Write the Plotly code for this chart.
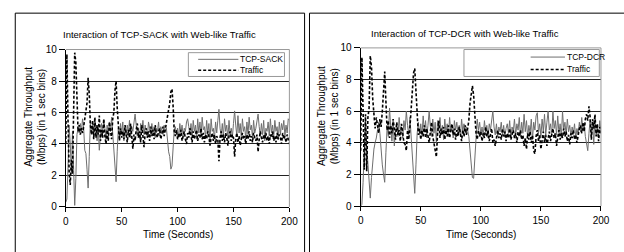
import plotly.graph_objects as go

time_s = list(range(201))

sack_tcp = [0.3,0.5,2.5,5.2,4.0,2.2,4.8,1.5,0.1,1.8,4.6,5.0,4.7,5.3,4.8,5.6,5.0,3.6,3.4,2.4,
1.2,3.2,5.4,4.6,5.2,4.4,5.5,4.9,4.2,5.1,3.6,4.5,5.3,4.8,5.5,5.0,4.3,5.2,4.6,5.4,
4.8,5.7,4.5,3.4,2.0,1.6,3.5,5.0,4.4,5.3,4.6,5.4,4.2,5.0,4.5,5.2,4.7,5.5,4.4,5.1,
4.8,5.6,5.9,5.2,4.5,5.0,4.3,5.3,4.8,5.5,4.6,5.2,4.9,4.4,5.4,5.0,4.6,5.3,4.7,5.1,
4.4,5.0,4.8,5.4,4.5,5.1,4.9,4.6,5.2,4.8,5.0,4.2,3.5,3.2,2.4,2.6,3.8,4.9,5.1,4.6,
5.0,4.4,5.3,4.7,5.2,4.5,5.0,4.8,5.4,5.6,5.1,4.6,5.3,4.4,5.5,4.8,5.2,4.3,5.6,4.7,
5.4,4.5,5.7,4.9,5.1,4.4,5.5,4.6,5.3,4.2,5.6,4.8,5.0,4.3,5.4,4.7,5.5,6.2,5.0,4.5,
5.3,4.4,5.6,4.8,5.2,4.3,5.5,4.6,5.0,4.4,5.3,6.1,5.2,4.5,5.8,4.7,5.3,4.4,5.6,4.8,
5.1,4.3,5.4,4.6,5.7,4.9,5.2,4.4,5.5,4.7,5.0,5.4,5.9,5.1,4.5,5.3,4.6,5.5,4.2,5.0,
4.8,5.4,4.5,5.6,4.7,5.2,4.4,5.5,4.8,5.1,4.3,5.4,4.6,5.3,4.9,5.5,4.5,5.2,4.7,5.6,5.5]

sack_traffic = [4.0,9.7,5.5,2.2,1.4,3.0,2.1,5.0,9.8,9.2,7.0,4.8,5.2,4.6,5.0,4.7,5.1,5.8,6.1,6.6,
8.2,7.2,5.2,4.6,5.5,4.3,5.7,4.4,5.2,4.6,5.8,4.2,4.9,4.4,5.6,4.5,4.0,4.9,4.2,5.4,
4.7,4.3,5.6,6.0,7.4,8.0,6.3,4.8,4.2,5.0,4.4,4.8,4.3,5.2,4.6,4.1,4.9,4.4,5.3,4.5,
3.7,4.6,4.2,4.9,5.3,4.4,4.8,4.1,5.2,4.5,3.8,4.7,5.0,4.4,4.8,4.2,5.1,4.5,4.9,4.3,
5.2,4.6,4.4,4.8,5.0,4.3,4.7,5.1,4.5,4.9,5.2,5.6,6.1,6.6,7.3,7.5,6.4,4.8,4.5,4.9,
4.3,4.7,4.4,4.9,4.2,4.6,4.8,4.3,4.0,4.7,4.4,5.0,4.5,4.1,4.8,4.3,4.6,4.9,4.2,4.6,
4.4,5.0,4.3,4.7,4.1,4.6,4.3,4.8,4.5,3.9,4.4,4.7,4.2,4.6,4.0,4.5,4.3,2.9,4.4,4.8,
4.2,4.6,4.1,4.7,4.4,3.9,4.5,4.8,4.2,4.6,4.4,3.2,4.3,4.7,4.1,4.5,3.9,4.4,4.7,4.3,
4.5,4.0,4.6,4.3,4.8,4.2,4.5,4.1,4.7,4.4,4.2,4.6,3.5,4.3,4.8,4.4,4.1,4.6,4.3,4.7,
4.2,4.5,4.0,4.6,4.4,4.8,4.2,4.5,4.1,4.7,4.3,4.6,4.4,4.0,4.7,4.3,4.5,4.1,4.6,4.3,4.0]

dcr_tcp = [0.0,0.1,1.5,4.2,5.5,3.8,2.5,1.0,0.5,1.8,2.8,3.6,4.0,4.3,4.8,5.3,4.6,3.5,2.6,2.0,
1.5,3.4,5.0,4.4,6.2,5.0,4.1,5.4,3.8,4.8,5.2,4.4,5.6,4.7,5.0,4.3,5.4,4.8,6.0,5.1,
4.5,5.6,4.2,2.8,1.5,0.8,2.6,4.6,5.3,4.5,5.2,4.4,5.7,4.7,5.4,4.3,5.1,6.0,5.0,4.4,
5.5,4.6,5.3,4.0,5.4,4.8,5.6,4.5,5.1,4.2,5.5,4.6,5.2,4.4,5.6,4.7,5.0,4.3,5.4,4.8,
5.3,4.5,5.1,4.4,5.5,4.7,5.2,4.6,5.0,4.8,4.4,3.6,2.8,1.8,1.75,3.2,4.6,5.5,4.8,5.3,
4.5,5.0,4.4,5.4,4.7,5.1,4.3,5.2,4.8,5.6,6.0,5.0,4.5,5.2,4.4,5.0,4.7,5.3,4.5,5.1,
4.4,4.9,5.2,4.6,5.4,4.3,5.0,4.7,5.5,4.5,5.2,4.8,5.6,4.4,5.3,4.6,5.8,4.7,5.4,4.3,
5.1,4.6,5.5,4.2,5.3,4.8,5.7,5.9,4.6,5.2,4.4,5.5,4.7,5.8,4.5,5.3,6.0,4.8,5.2,4.4,
6.0,4.9,5.4,4.5,5.7,4.6,5.2,4.3,6.0,4.8,5.3,4.5,5.5,4.7,5.1,4.4,5.0,4.6,5.2,4.3,
4.9,4.5,5.3,4.7,5.6,4.8,5.2,4.4,4.0,3.5,4.6,5.5,4.3,5.2,3.9,5.6,4.5,5.0,4.3,5.4,4.7]

dcr_traffic = [3.5,9.4,6.0,2.3,5.8,2.2,5.6,6.2,9.5,8.8,6.8,5.5,4.9,5.6,5.2,4.6,5.5,5.0,6.0,7.4,
8.5,6.6,4.8,5.4,4.3,5.1,4.6,5.5,4.9,4.2,5.3,4.5,4.8,4.1,5.2,4.6,4.0,3.9,3.5,4.8,
4.2,5.0,6.0,7.6,8.4,8.7,7.2,5.4,4.5,4.9,4.2,4.8,4.4,5.1,4.3,4.9,4.5,4.0,4.7,5.3,
4.4,3.9,3.6,3.1,4.6,5.4,4.3,4.9,4.5,5.0,4.2,4.8,4.4,5.1,4.3,4.7,5.2,4.5,4.9,4.2,
4.8,4.4,5.0,4.6,4.1,4.8,4.4,5.1,4.5,4.9,5.4,6.5,7.2,7.6,7.0,5.6,4.6,4.2,4.8,4.4,
4.7,4.1,4.6,4.3,5.0,4.4,4.8,4.1,4.5,4.9,4.0,4.2,3.8,4.5,4.8,4.3,4.6,4.2,4.9,4.4,
4.7,4.1,4.6,4.3,4.9,4.2,4.5,4.8,4.3,4.6,4.0,4.7,4.4,4.8,4.2,4.5,3.8,4.3,3.6,4.6,
4.2,4.7,4.0,4.5,3.5,3.3,4.4,4.8,4.1,4.5,3.6,4.3,4.7,4.0,4.5,3.8,4.4,4.7,4.1,4.5,
4.9,4.3,4.6,3.8,4.4,4.8,4.2,4.6,4.3,4.9,4.4,4.7,4.1,4.5,3.9,4.6,4.3,4.8,4.2,4.5,
4.0,4.6,4.9,5.1,4.6,5.3,4.7,5.5,5.8,5.4,6.3,5.6,4.2,5.5,4.9,5.8,4.4,5.2,4.1,5.0,4.6]

titles = ["Interaction of TCP-SACK with Web-like Traffic",
          "Interaction of TCP-DCR with Web-like Traffic"]
tcp_names = ["TCP-SACK", "TCP-DCR"]
traffic_name = "Traffic"
x_ticks = [0, 50, 100, 150, 200]
y_ticks = [0, 2, 4, 6, 8, 10]
y_title = "Aggregate Throughput<br>(Mbps) (in 1 sec bins)"
x_title = "Time (Seconds)"

W, H = 624, 252
FONT = "Liberation Sans, Arial, sans-serif"
TCP_COLOR = "#6e6e6e"
TRF_LINE = dict(color="black", width=1.6, dash="3px,2px")

def px(x):
    return x / W

def py(y):
    return 1 - y / H

fig = go.Figure()

panels = [
    dict(tcp=sack_tcp, trf=sack_traffic, xd=[px(64), px(292)], yd=[py(211), py(45.7)],
         legbox=[189, 49, 287, 74], legline=[199, 240], title_x=px(160), title_y=py(30),
         ytitle_x=px(33), xtitle_x=px(178), border=[12.5, 307.5]),
    dict(tcp=dcr_tcp, trf=dcr_traffic, xd=[px(364.7), px(609.7)], yd=[py(210), py(44)],
         legbox=[470, 45.7, 608, 74], legline=[538, 573], title_x=px(471), title_y=py(29),
         ytitle_x=px(332), xtitle_x=px(487), border=[312.5, 700]),
]

shapes = []
annotations = []
for i, p in enumerate(panels):
    sfx = "" if i == 0 else str(i + 1)
    xa, ya = "x" + sfx, "y" + sfx
    fig.add_trace(go.Scatter(x=time_s, y=p["tcp"], mode="lines", name=tcp_names[i],
                             line=dict(color=TCP_COLOR, width=1), xaxis=xa, yaxis=ya,
                             showlegend=False))
    fig.add_trace(go.Scatter(x=time_s, y=p["trf"], mode="lines", name=traffic_name,
                             line=TRF_LINE, xaxis=xa, yaxis=ya, showlegend=False))
    fig.layout["xaxis" + sfx] = dict(domain=p["xd"], range=[0, 200], tickvals=x_ticks,
        showgrid=False, zeroline=False, showline=True, linecolor="black", linewidth=1,
        ticks="outside", ticklen=4, tickcolor="black", anchor=ya, ticklabelstandoff=1,
        tickfont=dict(family=FONT, size=10, color="black"))
    fig.layout["yaxis" + sfx] = dict(domain=p["yd"], range=[0, 10], tickvals=y_ticks,
        showgrid=True, gridcolor="#222", gridwidth=1, zeroline=False, showline=True,
        linecolor="black", linewidth=1, ticks="outside", ticklen=6, tickcolor="black",
        anchor=xa, tickfont=dict(family=FONT, size=10, color="black"))
    # plot-area border (top and right, gray)
    shapes.append(dict(type="line", xref=xa + " domain", yref=ya + " domain",
                       x0=0, x1=1, y0=1, y1=1, line=dict(color="#999", width=1), layer="above"))
    shapes.append(dict(type="line", xref=xa + " domain", yref=ya + " domain",
                       x0=1, x1=1, y0=0, y1=1, line=dict(color="#999", width=1), layer="above"))
    # panel frame
    bx0, bx1 = p["border"]
    for (a0, b0, a1, b1) in [(bx0, 7.5, bx1, 7.5), (bx0, 7.5, bx0, 300), (bx1, 7.5, bx1, 300)]:
        shapes.append(dict(type="line", xref="paper", yref="paper",
                           x0=px(a0), y0=py(b0), x1=px(a1), y1=py(b1),
                           line=dict(color="black", width=1)))
    # legend box (custom)
    lx0, ly0, lx1, ly1 = p["legbox"]
    shapes.append(dict(type="rect", xref="paper", yref="paper", x0=px(lx0), x1=px(lx1),
                       y0=py(ly1), y1=py(ly0), line=dict(color="#999", width=1),
                       fillcolor="white", layer="above"))
    s0, s1 = p["legline"]
    r1 = ly0 + (ly1 - ly0) * 0.28
    r2 = ly0 + (ly1 - ly0) * 0.74
    shapes.append(dict(type="line", xref="paper", yref="paper", x0=px(s0), x1=px(s1),
                       y0=py(r1), y1=py(r1), line=dict(color=TCP_COLOR, width=1), layer="above"))
    shapes.append(dict(type="line", xref="paper", yref="paper", x0=px(s0), x1=px(s1),
                       y0=py(r2), y1=py(r2), line=TRF_LINE, layer="above"))
    annotations.append(dict(text=tcp_names[i], x=px(s1), y=py(r1), xref="paper", yref="paper",
                            showarrow=False, xanchor="left", yanchor="middle",
                            font=dict(family=FONT, size=8.5, color="black")))
    annotations.append(dict(text=traffic_name, x=px(s1), y=py(r2), xref="paper", yref="paper",
                            showarrow=False, xanchor="left", yanchor="middle",
                            font=dict(family=FONT, size=8.5, color="black")))
    annotations.append(dict(text=titles[i], x=p["title_x"], y=p["title_y"], xref="paper",
                            yref="paper", showarrow=False, xanchor="center", yanchor="middle",
                            font=dict(family=FONT, size=9.5, color="black")))
    annotations.append(dict(text=y_title, x=p["ytitle_x"], y=py(116), xref="paper", yref="paper",
                            showarrow=False, textangle=-90, xanchor="center", yanchor="middle",
                            font=dict(family=FONT, size=10, color="black")))
    annotations.append(dict(text=x_title, x=p["xtitle_x"], y=py(240), xref="paper", yref="paper",
                            showarrow=False, xanchor="center", yanchor="middle",
                            font=dict(family=FONT, size=10, color="black")))

fig.update_layout(width=W, height=H, margin=dict(l=0, r=0, t=0, b=0),
                  paper_bgcolor="white", plot_bgcolor="white", showlegend=False,
                  shapes=shapes, annotations=annotations)

fig.write_html("out.html", config={"displayModeBar": False},
               post_script="document.body.style.margin='0';")
